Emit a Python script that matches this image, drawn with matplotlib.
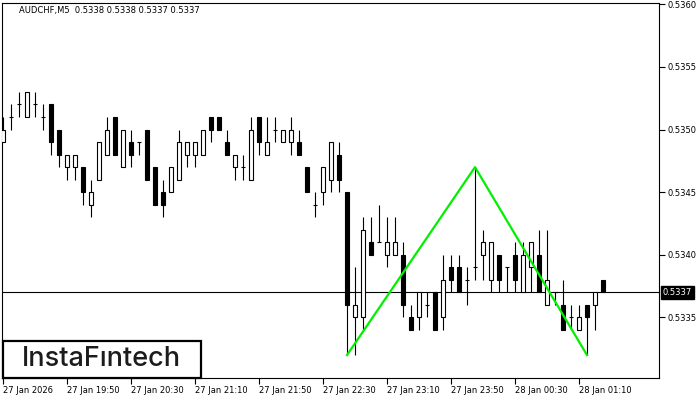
import matplotlib.pyplot as plt
from matplotlib.patches import Rectangle

# AUDCHF M5 bars, 27 Jan 19:10 .. 28 Jan 01:25
opens = [0.5349, 0.5351, 0.5352, 0.5351, 0.5352, 0.5351, 0.5352, 0.5350, 0.5347, 0.5347,
         0.5347, 0.5344, 0.5346, 0.5348, 0.5351, 0.5347, 0.5349, 0.5349, 0.5350, 0.5347,
         0.5345, 0.5345, 0.5346, 0.5348, 0.5348, 0.5348, 0.5351, 0.5351, 0.5349, 0.5347,
         0.5347, 0.5346, 0.5351, 0.5348, 0.5350, 0.5349, 0.5349, 0.5349, 0.5347, 0.5344,
         0.5345, 0.5346, 0.5348, 0.5345, 0.5335, 0.5335, 0.5341, 0.5341, 0.5340, 0.5340,
         0.5340, 0.5335, 0.5335, 0.5336, 0.5337, 0.5335, 0.5339, 0.5339, 0.5338, 0.5339,
         0.5340, 0.5338, 0.5340, 0.5339, 0.5340, 0.5337, 0.5339, 0.5340, 0.5336, 0.5337,
         0.5336, 0.5335, 0.5334, 0.5336, 0.5336, 0.5338]
highs = [0.5351, 0.5352, 0.5353, 0.5353, 0.5353, 0.5352, 0.5352, 0.5350, 0.5348, 0.5348,
         0.5347, 0.5346, 0.5349, 0.5351, 0.5351, 0.5350, 0.5350, 0.5349, 0.5350, 0.5347,
         0.5346, 0.5347, 0.5350, 0.5349, 0.5349, 0.5350, 0.5351, 0.5351, 0.5350, 0.5348,
         0.5348, 0.5351, 0.5351, 0.5351, 0.5351, 0.5350, 0.5351, 0.5350, 0.5347, 0.5345,
         0.5347, 0.5349, 0.5349, 0.5345, 0.5339, 0.5343, 0.5343, 0.5344, 0.5343, 0.5343,
         0.5341, 0.5336, 0.5337, 0.5337, 0.5337, 0.5340, 0.5340, 0.5340, 0.5339, 0.5347,
         0.5342, 0.5341, 0.5340, 0.5339, 0.5341, 0.5341, 0.5341, 0.5342, 0.5342, 0.5337,
         0.5338, 0.5336, 0.5336, 0.5336, 0.5337, 0.5338]
lows = [0.5349, 0.5350, 0.5351, 0.5351, 0.5351, 0.5350, 0.5348, 0.5347, 0.5346, 0.5346,
        0.5344, 0.5343, 0.5346, 0.5348, 0.5348, 0.5347, 0.5347, 0.5348, 0.5346, 0.5344,
        0.5343, 0.5345, 0.5346, 0.5347, 0.5347, 0.5348, 0.5349, 0.5350, 0.5348, 0.5346,
        0.5346, 0.5346, 0.5348, 0.5348, 0.5349, 0.5349, 0.5348, 0.5348, 0.5345, 0.5343,
        0.5344, 0.5345, 0.5345, 0.5332, 0.5332, 0.5334, 0.5340, 0.5341, 0.5339, 0.5340,
        0.5335, 0.5334, 0.5334, 0.5335, 0.5334, 0.5334, 0.5337, 0.5337, 0.5336, 0.5338,
        0.5338, 0.5337, 0.5337, 0.5337, 0.5337, 0.5337, 0.5337, 0.5337, 0.5336, 0.5336,
        0.5334, 0.5334, 0.5334, 0.5332, 0.5334, 0.5337]
closes = [0.5350, 0.5351, 0.5352, 0.5353, 0.5352, 0.5351, 0.5349, 0.5348, 0.5348, 0.5348,
          0.5345, 0.5345, 0.5349, 0.5350, 0.5348, 0.5350, 0.5348, 0.5349, 0.5346, 0.5344,
          0.5344, 0.5347, 0.5349, 0.5349, 0.5349, 0.5350, 0.5350, 0.5350, 0.5348, 0.5348,
          0.5347, 0.5350, 0.5349, 0.5349, 0.5350, 0.5350, 0.5350, 0.5348, 0.5345, 0.5344,
          0.5347, 0.5349, 0.5346, 0.5336, 0.5336, 0.5342, 0.5340, 0.5341, 0.5341, 0.5341,
          0.5336, 0.5334, 0.5337, 0.5336, 0.5334, 0.5338, 0.5338, 0.5337, 0.5338, 0.5339,
          0.5341, 0.5341, 0.5338, 0.5339, 0.5338, 0.5340, 0.5341, 0.5337, 0.5338, 0.5337,
          0.5334, 0.5335, 0.5335, 0.5335, 0.5337, 0.5337]

# double bottom pattern (bar index, price)
pattern_x = [43, 59, 73]
pattern_y = [0.5332, 0.5347, 0.5332]

tick_pos = [0, 8, 16, 24, 32, 40, 48, 56, 64, 72]
tick_labels = ['27 Jan 2026', '27 Jan 19:50', '27 Jan 20:30', '27 Jan 21:10',
               '27 Jan 21:50', '27 Jan 22:30', '27 Jan 23:10', '27 Jan 23:50',
               '28 Jan 00:30', '28 Jan 01:10']
price_ticks = [0.5335, 0.5340, 0.5345, 0.5350, 0.5355, 0.5360]
last_price = 0.5337
title = 'AUDCHF,M5  0.5338 0.5338 0.5337 0.5337'

plt.rcParams['font.family'] = 'DejaVu Sans'

fig = plt.figure(figsize=(7, 4), dpi=100)
ax = fig.add_axes([2 / 700, 22 / 400, 657 / 700, 375 / 400])

# current price line
ax.axhline(last_price, color='black', lw=0.8, zorder=1)

n = len(opens)
xs = list(range(n))
ax.vlines(xs, lows, highs, color='black', lw=0.8, zorder=2)
bottoms = [min(o, c) for o, c in zip(opens, closes)]
heights = [abs(c - o) for o, c in zip(opens, closes)]
colors = ['white' if c > o else 'black' for o, c in zip(opens, closes)]
ax.bar(xs, heights, bottom=bottoms, width=0.55, color=colors,
       edgecolor='black', linewidth=0.8, zorder=3)

ax.plot(pattern_x, pattern_y, color='#00f000', lw=1.6, zorder=4)

ax.set_xlim(-0.125, 82)
ax.set_ylim(0.533017, 0.53601)

ax.yaxis.tick_right()
ax.set_yticks(price_ticks)
ax.set_yticklabels([f'{p:.4f}' for p in price_ticks])
ax.set_xticks(tick_pos)
ax.set_xticklabels(tick_labels, ha='left')
ax.tick_params(axis='both', direction='out', length=4, width=0.8,
               labelsize=6, pad=2, colors='black')
for s in ax.spines.values():
    s.set_linewidth(0.8)

ax.annotate(f'{last_price:.4f}', xy=(1.006, last_price),
            xycoords=('axes fraction', 'data'), va='center', ha='left',
            fontsize=6, color='white',
            bbox=dict(boxstyle='square,pad=0.2', fc='black', ec='black'))

fig.text(19 / 700, 1 - 10.5 / 400, title, fontsize=6, va='center', ha='left')

# logo
fig.patches.append(Rectangle((3 / 700, 22 / 400), 198 / 700, 37 / 400,
                             transform=fig.transFigure, fc='white',
                             ec='black', lw=1.6, zorder=10))
fig.text(101 / 700, 1 - 359 / 400, 'InstaF\u0131ntech', fontsize=19.5,
         family='Inter', weight='medium', color='#1c1c1c',
         ha='center', va='center', zorder=11)

fig.savefig('out.png', dpi=100)
